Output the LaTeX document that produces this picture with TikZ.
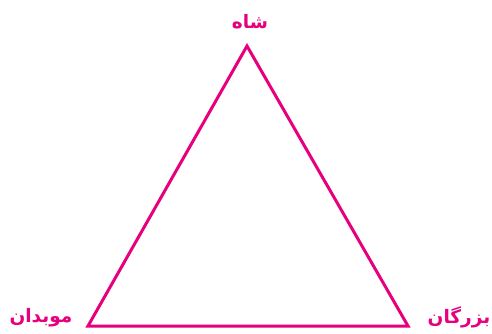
\documentclass[tikz,border=0pt]{standalone}
\usepackage{fontspec}
\TeXXeTstate=1
\newfontfamily\arabicfont[Script=Arabic]{DejaVu Sans}
\definecolor{mag}{RGB}{230,0,126}
\begin{document}
\begin{tikzpicture}[x=1pt,y=-1pt,
  lbl/.style={text=mag,font=\arabicfont\bfseries\fontsize{18.5}{22}\selectfont,inner sep=0pt},
  tri/.style={draw=mag,line width=3pt,line join=miter}]
\useasboundingbox (0,0) rectangle (492,334);
\coordinate (A) at (247,46);
\coordinate (B) at (88,326);
\coordinate (C) at (408,326);
\draw[tri] (A) -- (B) -- (C) -- cycle;
\node[lbl] (t) at (250,22) {\beginR شاه\endR};
\node[lbl] (l) at (41,318) {\beginR موبدان\endR};
\node[lbl] (r) at (459,317) {\beginR بزرگان\endR};
\end{tikzpicture}
\end{document}
